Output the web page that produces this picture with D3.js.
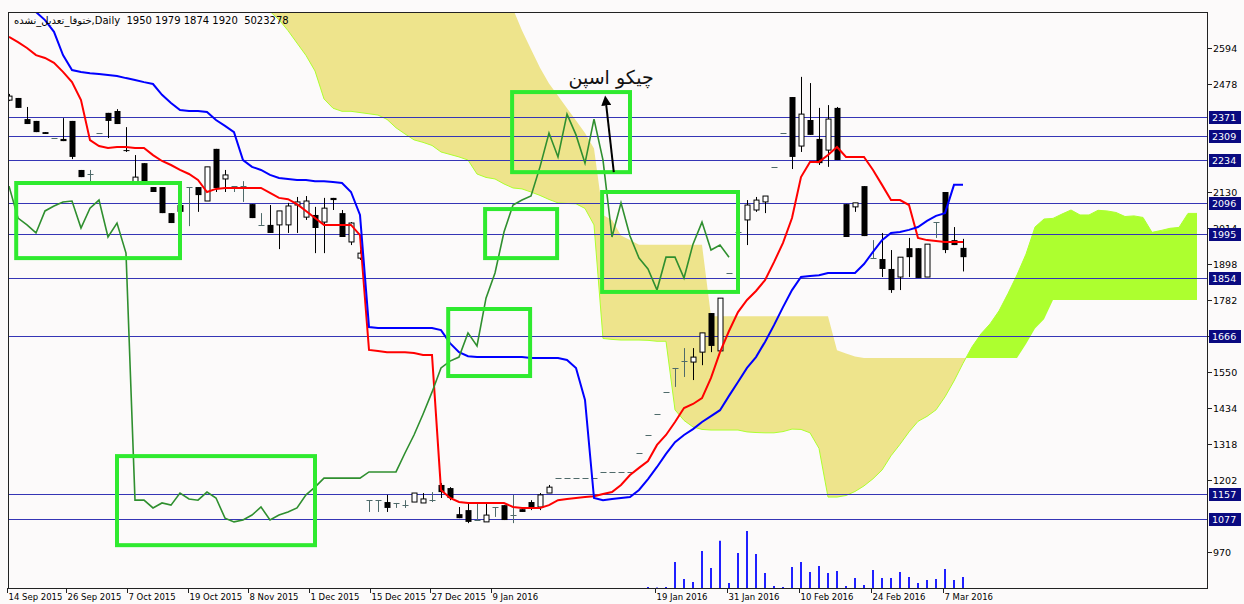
<!DOCTYPE html>
<html>
<head>
<meta charset="utf-8">
<script src="https://cdn.jsdelivr.net/npm/d3@7"></script>
<style>
  body { margin: 0; background: #fcfafa; }
  svg { display: block; font-family: "DejaVu Sans", sans-serif; }
</style>
</head>
<body>
<svg id="chart" width="1244" height="604"></svg>
<script>
// bar index of each date label on the time axis
const dateTicks = [0, 6.6, 13.3, 20.1, 26.8, 33.6, 40.3, 47, 53.8, 72, 80, 88, 96, 104];
const dateLabels = ["14 Sep 2015", "26 Sep 2015", "7 Oct 2015", "19 Oct 2015", "8 Nov 2015", "1 Dec 2015",
  "15 Dec 2015", "27 Dec 2015", "9 Jan 2016", "19 Jan 2016", "31 Jan 2016", "10 Feb 2016", "24 Feb 2016", "7 Mar 2016"];
// 1086, 2246 and 2362 sit under the level boxes and are not shown
const priceTicks = [970, 1202, 1318, 1434, 1550, 1666, 1782, 1898, 2014, 2130, 2478, 2594];
const levels = [2371, 2309, 2234, 2096, 1995, 1854, 1666, 1157, 1077];

const opens  = [2426,2433,2365,2359,2323,2304,2301,2359,2201,2188,2320,2385,2391,2265,2162,2223,2146,2146,2062,2088,
  2146,2146,2101,2269,2172,2149,2149,2091,2024,2024,2024,2024,2088,2049,2056,2033,2111,2062,1969,1917,
  1137,1137,1131,1128,1121,1131,1128,1137,1186,1176,1092,1105,1073,1067,1115,1121,1089,1108,1131,1115,
  1160,1208,1208,1208,1208,1208,1228,1228,1228,1228,1289,1347,1414,1485,1563,1585,1582,1614,1740,1618,
  1869,2001,2040,2072,2098,2211,2320,2436,2278,2362,2301,2265,2401,2091,2082,2149,1917,1914,1882,1856,
  1949,1949,1856,2033,2130,1975,1950];
const highs  = [2446,2433,2404,2359,2323,2304,2368,2359,2201,2201,2320,2385,2397,2339,2249,2223,2146,2146,2062,2104,
  2146,2146,2211,2269,2201,2149,2165,2091,2062,2088,2069,2095,2114,2117,2082,2111,2111,2072,2033,1943,
  1137,1137,1154,1128,1137,1160,1160,1163,1192,1179,1115,1131,1131,1131,1115,1121,1154,1108,1137,1160,
  1186,1208,1208,1208,1208,1208,1228,1228,1228,1228,1289,1347,1414,1485,1563,1627,1627,1676,1740,1788,
  1869,2001,2104,2114,2117,2211,2320,2436,2501,2481,2401,2410,2404,2091,2095,2149,1975,1998,1943,1920,
  1982,1949,1962,2033,2130,2017,1979];
const lows   = [2423,2401,2349,2323,2317,2304,2294,2236,2178,2165,2320,2304,2349,2259,2162,2162,2130,2062,2030,2059,
  2020,2066,2101,2130,2130,2130,2098,2046,2024,1998,1946,1998,1998,2040,1933,1933,2072,1985,1959,1911,
  1099,1099,1099,1112,1112,1131,1128,1131,1144,1137,1079,1063,1073,1067,1083,1073,1063,1099,1105,1105,
  1160,1208,1208,1208,1208,1208,1228,1228,1228,1228,1289,1347,1414,1485,1502,1534,1524,1572,1614,1618,
  1869,2001,1959,2066,2062,2211,2320,2204,2259,2314,2217,2211,2233,1985,2066,1988,1917,1856,1805,1814,
  1856,1853,1856,1982,1933,1959,1874];
const closes = [2439,2401,2349,2323,2317,2304,2294,2243,2178,2188,2320,2359,2349,2262,2178,2162,2130,2062,2030,2066,
  2146,2120,2211,2143,2185,2149,2149,2046,2024,1998,2069,2085,2098,2101,2014,2078,2104,1985,2030,1933,
  1137,1137,1112,1128,1121,1160,1141,1137,1163,1144,1079,1067,1073,1089,1115,1073,1089,1099,1112,1154,
  1179,1208,1208,1208,1208,1208,1228,1228,1228,1228,1289,1347,1414,1485,1563,1585,1598,1676,1634,1788,
  1869,2001,2088,2104,2117,2211,2320,2243,2381,2314,2223,2365,2233,1985,2095,1988,1917,1882,1814,1920,
  1920,1853,1962,2033,1943,1959,1920];

// Tenkan-sen (red) and Kijun-sen (blue), one value per bar
const tenkan = [2630,2613,2594,2571,2562,2546,2517,2484,2426,2297,2278,2272,2275,2275,2272,2272,2249,2230,2217,2201,
  2188,2169,2130,2140,2143,2143,2143,2143,2143,2127,2111,2107,2091,2069,2046,2024,2024,2024,2024,1991,
  1621,1618,1614,1614,1614,1611,1605,1605,1170,1144,1131,1128,1128,1128,1128,1128,1115,1112,1112,1112,
  1121,1137,1141,1144,1147,1150,1157,1163,1186,1218,1241,1263,1315,1347,1389,1434,1447,1466,1531,1614,
  1682,1743,1782,1811,1846,1904,1966,2046,2178,2227,2227,2249,2275,2243,2243,2243,2201,2153,2104,2104,
  2088,1982,1975,1972,1969,1969,1969];
const kijun  = [2829,2797,2765,2710,2684,2646,2571,2523,2517,2513,2510,2507,2504,2497,2491,2484,2478,2443,2417,2394,
  2391,2391,2388,2362,2343,2323,2233,2211,2201,2185,2175,2172,2169,2169,2165,2165,2162,2159,2130,2056,
  1695,1692,1692,1692,1692,1692,1692,1692,1685,1643,1614,1601,1598,1598,1598,1598,1598,1598,1595,1595,
  1595,1595,1589,1563,1460,1144,1137,1141,1144,1147,1170,1205,1244,1286,1324,1347,1366,1389,1408,1427,
  1473,1518,1563,1598,1647,1701,1759,1814,1856,1859,1862,1869,1869,1869,1869,1898,1937,1975,1998,2001,
  2008,2017,2037,2053,2062,2153,2153];

// Senkou spans, already shifted 26 bars ahead (first value sits on bar 26)
const cloudStart = 26;
const spanA = [2800,2770,2740,2712,2685,2650,2610,2570,2520,2430,2400,2390,2390,2386,2382,2378,2364,2337,2317,2298,
  2290,2280,2259,2251,2243,2233,2188,2177,2172,2156,2143,2140,2130,2119,2106,2095,2093,2092,2077,2024,
  1658,1655,1653,1653,1653,1652,1649,1649,1428,1394,1373,1365,1363,1363,1363,1363,1357,1355,1354,1354,
  1358,1366,1365,1354,1304,1147,1147,1152,1165,1183,1206,1234,1280,1317,1357,1391,1407,1428,1470,1521,
  1578,1631,1673,1705,1747,1803,1863,1930,2017,2043,2045,2059,2072,2056,2056,2071,2069,2064,2051,2053,
  2048,2000,2006,2013,2016,2061,2061];
const spanB = [2800,2800,2800,2800,2800,2800,2800,2800,2800,2800,2800,2800,2800,2800,2800,2800,2800,2800,2800,2800,
  2800,2800,2800,2800,2800,2800,2800,2800,2800,2800,2720,2650,2590,2530,2480,2440,2400,2360,2320,2270,
  2056,2040,1990,1975,1960,1960,1960,1960,1960,1960,1960,1960,1730,1730,1730,1730,1730,1730,1730,1730,
  1730,1730,1730,1730,1730,1730,1620,1610,1600,1595,1595,1595,1595,1595,1595,1595,1595,1595,1595,1595,
  1595,1595,1595,1595,1595,1595,1595,1640,1690,1720,1782,1782,1782,1782,1782,1782,1782,1782,1782,1782,
  1782,1782,1782,1782,1782,1782,1782];

// volume in millions, first value on bar 71
const volStart = 71;
const volume = [0.5,0.2,0.5,11.9,4.1,2.7,16.9,9.1,21.5,2.3,16.0,26.0,15.5,6.8,0.9,0.5,9.6,11.9,7.3,10.0,
  6.8,7.8,0.9,4.6,1.4,8.2,4.6,4.6,7.3,5.0,2.3,3.7,4.1,8.7,3.7,5.02];

// annotation boxes: [fromBar, toBar, topPrice, bottomPrice]
const boxSpans = [[0.8,19,2159,1917],[12,34,1279,992],[48.8,57.9,1753,1537],[52.9,60.9,2075,1917],
  [55.9,69,2452,2194],[65.9,81,2130,1808]];

const W = 1244, H = 604;
const pL = 8, pT = 12, pR = 1207, pB = 588;

const x = d3.scaleLinear().domain([0, 132]).range([9, 1197]);
const y = d3.scaleLinear().domain([854, 2710]).range([pB, pT]);
const vy = d3.scaleLinear().domain([0, 26]).range([pB, 531]);

const svg = d3.select("#chart");
svg.append("rect").attr("width", W).attr("height", H).attr("fill", "#fcfafa");
const defs = svg.append("defs");
defs.append("clipPath").attr("id", "plot").append("rect")
  .attr("x", pL + 1).attr("y", pT + 1).attr("width", pR - pL - 1).attr("height", pB - pT - 1);

// cloud
const cloud = spanA.map((a, k) => ({ i: cloudStart + k, a: a, b: spanB[k] }));
const down = key => d3.area().x(d => x(d.i)).y0(H + 100).y1(d => y(d[key]));
const up = key => d3.area().x(d => x(d.i)).y0(d => y(d[key])).y1(-100);
defs.append("clipPath").attr("id", "aboveA").append("path").attr("d", up("a")(cloud));
defs.append("clipPath").attr("id", "aboveB").append("path").attr("d", up("b")(cloud));

const plot = svg.append("g").attr("clip-path", "url(#plot)");
plot.append("g").attr("clip-path", "url(#aboveA)")
  .append("path").attr("d", down("b")(cloud)).attr("fill", "#eee48c");
plot.append("g").attr("clip-path", "url(#aboveB)")
  .append("path").attr("d", down("a")(cloud)).attr("fill", "#adff2f");
plot.append("path").datum(cloud)
  .attr("d", d3.line().x(d => x(d.i)).y(d => y(d.a)))
  .attr("fill", "none").attr("stroke", "#adff2f").attr("stroke-width", 1);

// horizontal levels
plot.selectAll(".lvl").data(levels).join("line")
  .attr("x1", pL).attr("x2", pR)
  .attr("y1", d => Math.round(y(d)) + 0.5).attr("y2", d => Math.round(y(d)) + 0.5)
  .attr("stroke", "#3535b5").attr("stroke-width", 1);

// volume
plot.selectAll(".vol").data(volume).join("line")
  .attr("x1", (d, k) => x(volStart + k)).attr("x2", (d, k) => x(volStart + k))
  .attr("y1", vy(0)).attr("y2", d => vy(d))
  .attr("stroke", "#2020ff").attr("stroke-width", 2);

// candles
const bars = closes.map((c, i) => ({ i, o: opens[i], h: highs[i], l: lows[i], c }));
const cg = plot.append("g");
bars.forEach(d => {
  const cx = Math.round(x(d.i)) + 0.5;
  const doji = d.o === d.c;
  const col = doji ? "#4f6a6a" : "#000";
  cg.append("line").attr("x1", cx).attr("x2", cx).attr("y1", y(d.h)).attr("y2", y(d.l))
    .attr("stroke", col).attr("stroke-width", 1);
  if (doji) {
    cg.append("line").attr("x1", cx - 3).attr("x2", cx + 3)
      .attr("y1", Math.round(y(d.c)) + 0.5).attr("y2", Math.round(y(d.c)) + 0.5)
      .attr("stroke", col).attr("stroke-width", 1);
  } else if (d.c > d.o) {
    cg.append("rect").attr("x", cx - 2.5).attr("width", 5)
      .attr("y", y(d.c)).attr("height", Math.max(1, y(d.o) - y(d.c)))
      .attr("fill", "#fff").attr("stroke", "#000").attr("stroke-width", 1);
  } else {
    cg.append("rect").attr("x", cx - 3).attr("width", 6)
      .attr("y", y(d.o)).attr("height", Math.max(1, y(d.c) - y(d.o)))
      .attr("fill", "#000");
  }
});

// lines
const line = d3.line().x(d => x(d.i)).y(d => y(d.v));
plot.append("path").datum(tenkan.map((v, i) => ({ i, v })))
  .attr("d", line).attr("fill", "none").attr("stroke", "#ff0000").attr("stroke-width", 2);
plot.append("path").datum(kijun.map((v, i) => ({ i, v })))
  .attr("d", line).attr("fill", "none").attr("stroke", "#0000ff").attr("stroke-width", 2);
plot.append("path").datum(closes.slice(26).map((v, k) => ({ i: k, v })))
  .attr("d", line).attr("fill", "none").attr("stroke", "#2f8f2f").attr("stroke-width", 1.6);

// annotation boxes
svg.selectAll(".box").data(boxSpans).join("rect")
  .attr("x", d => x(d[0])).attr("y", d => y(d[2]))
  .attr("width", d => x(d[1]) - x(d[0])).attr("height", d => y(d[3]) - y(d[2]))
  .attr("fill", "none").attr("stroke", "#2fea2f").attr("stroke-width", 4);

// chikou arrow and label
defs.append("marker").attr("id", "head").attr("viewBox", "0 0 10 10")
  .attr("refX", 5).attr("refY", 5).attr("markerWidth", 10).attr("markerHeight", 10)
  .attr("markerUnits", "userSpaceOnUse").attr("orient", "auto")
  .append("path").attr("d", "M0,0 L10,5 L0,10 Z").attr("fill", "#000");
svg.append("line")
  .attr("x1", x(67.2)).attr("y1", y(2194)).attr("x2", x(66.3)).attr("y2", y(2425))
  .attr("stroke", "#000").attr("stroke-width", 2).attr("marker-end", "url(#head)");
svg.append("text").attr("x", x(66.9)).attr("y", y(2440) - 12)
  .attr("text-anchor", "middle").attr("font-size", 19).attr("fill", "#111")
  .text("چیکو اسپن");

// frame
svg.append("rect").attr("x", pL + 0.5).attr("y", pT + 0.5)
  .attr("width", pR - pL).attr("height", pB - pT)
  .attr("fill", "none").attr("stroke", "#222").attr("stroke-width", 1);

// price axis
const ax = svg.append("g").attr("font-size", 9.5).attr("fill", "#000");
priceTicks.forEach(v => {
  const ty = Math.round(y(v)) + 0.5;
  ax.append("line").attr("x1", pR).attr("x2", pR + 5).attr("y1", ty).attr("y2", ty).attr("stroke", "#222");
  ax.append("text").attr("x", pR + 6).attr("y", ty).attr("dy", "0.35em").text(v);
});
levels.forEach(v => {
  const ty = Math.round(y(v)) + 0.5;
  ax.append("rect").attr("x", pR + 2).attr("y", ty - 6.5).attr("width", 32).attr("height", 13).attr("fill", "#0a0a80");
  ax.append("text").attr("x", pR + 5).attr("y", ty).attr("dy", "0.35em").attr("fill", "#fff").text(v);
});

// time axis
const tx = svg.append("g").attr("font-size", 8.5).attr("fill", "#000");
dateTicks.forEach((t, k) => {
  const px = Math.round(x(t)) - 1.5;
  tx.append("line").attr("x1", px).attr("x2", px).attr("y1", pB).attr("y2", pB + 5).attr("stroke", "#222");
  tx.append("text").attr("x", px + 1).attr("y", 600).text(dateLabels[k]);
});

// header
svg.append("text").attr("x", 14).attr("y", 24).attr("font-size", 10).attr("fill", "#000")
  .style("white-space", "pre")
  .text("ختوقا_تعدیل_نشده,Daily  1950 1979 1874 1920  5023278");
</script>
</body>
</html>
